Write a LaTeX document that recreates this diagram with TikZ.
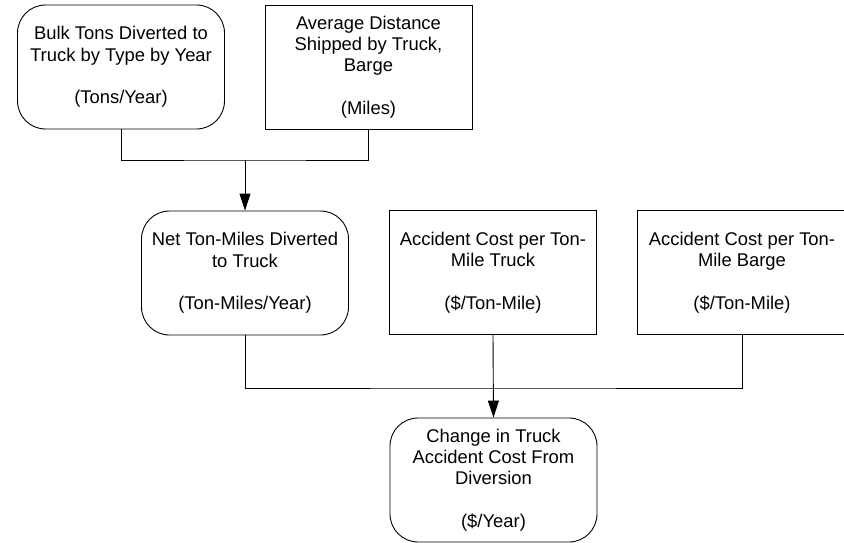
\documentclass[tikz,border=0pt]{standalone}
\usepackage{fontspec}
\setmainfont{Liberation Sans}
\usetikzlibrary{arrows.meta}
\tikzset{
  box/.style={draw=black, line width=0.9pt, align=center, inner sep=0pt,
    minimum width=207pt, minimum height=124pt,
    font=\fontsize{18.4}{21.2}\selectfont},
  rbox/.style={box, rounded corners=28pt},
  link/.style={draw=black, line width=0.9pt},
  arr/.style={link, -{Triangle[length=17pt,width=11pt]}}
}
\begin{document}
\begin{tikzpicture}[x=1pt,y=-1pt]
\useasboundingbox (0,0) rectangle (844,543);
\node[rbox] (n1) at (121,67) {Bulk Tons Diverted to\\Truck by Type by Year\\[21.2pt](Tons/Year)};
\node[box] (n2) at (368.5,67) {Average Distance\\Shipped by Truck,\\Barge\\[21.2pt](Miles)};
\node[rbox] (n3) at (245,273) {Net Ton-Miles Diverted\\to Truck\\[21.2pt](Ton-Miles/Year)};
\node[box] (n4) at (493,272.5) {Accident Cost per Ton-\\Mile Truck\\[21.2pt](\$/Ton-Mile)};
\node[box, minimum width=210pt] (n5) at (742,272.5) {Accident Cost per Ton-\\Mile Barge\\[21.2pt](\$/Ton-Mile)};
\node[rbox] (n6) at (493.5,480) {Change in Truck\\Accident Cost From\\Diversion\\[21.2pt](\$/Year)};
\coordinate (j1) at (245,160);
\coordinate (j2) at (493,388);
\draw[link] (n1.south) |- (j1) -| (n2.south);
\draw[arr] (j1) -- (n3.north);
\draw[link] (n3.south) |- (j2) -| (n5.south);
\draw[arr] (n4.south) -- (n6.north);
\end{tikzpicture}
\end{document}
